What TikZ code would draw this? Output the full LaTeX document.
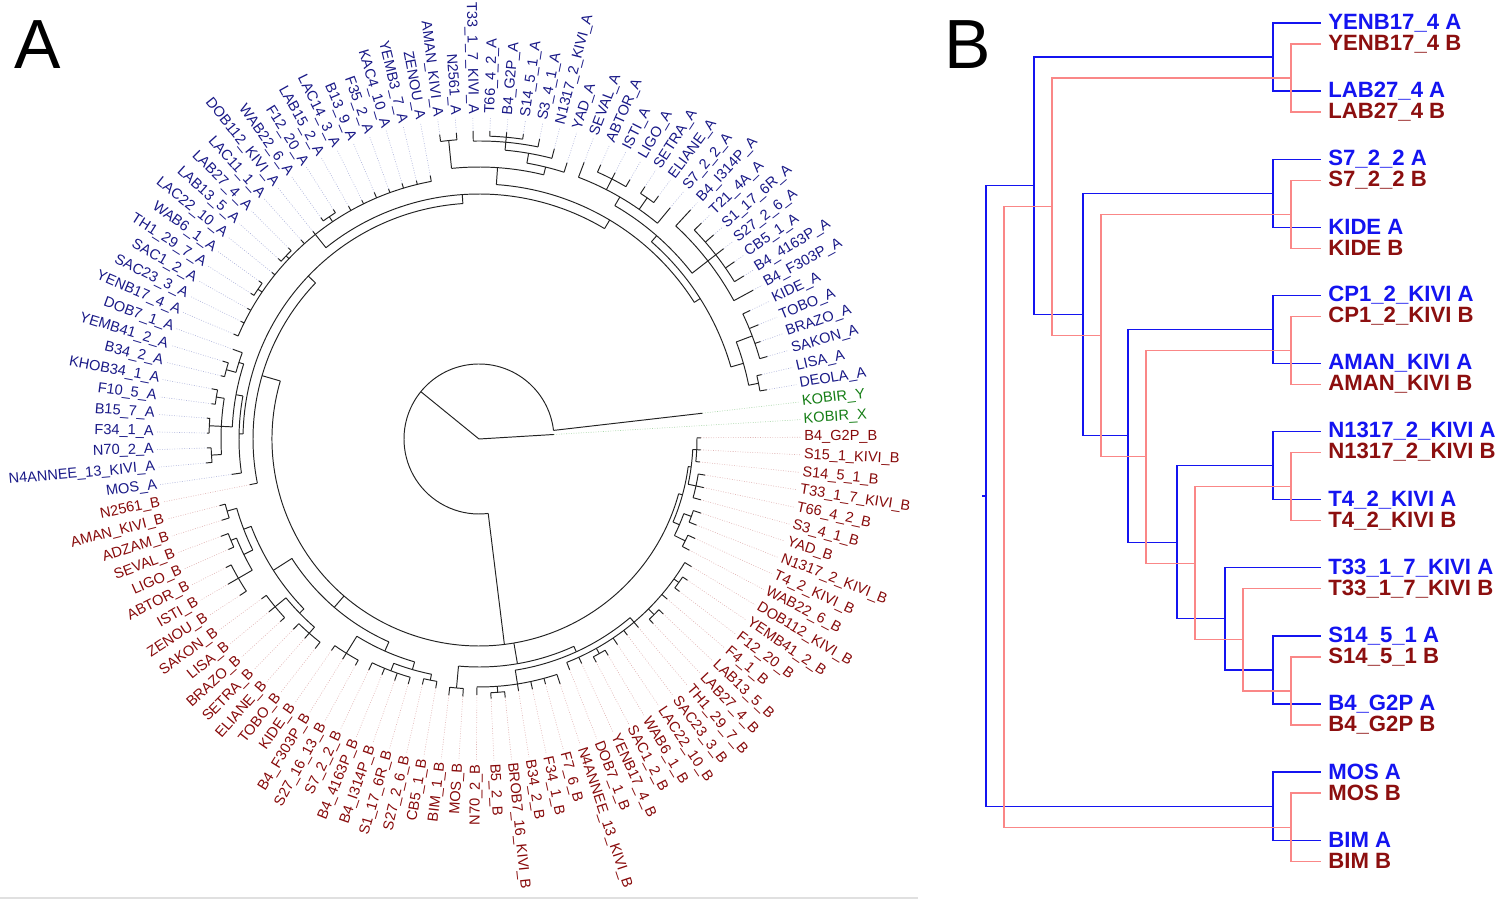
\documentclass[tikz,border=0pt]{standalone}
\usepackage{fontspec}
\setmainfont{Liberation Sans}
\usepackage{tikz}

\definecolor{treegray}{RGB}{35,35,35}
\definecolor{labnavy}{RGB}{25,25,135}
\definecolor{labred}{RGB}{135,10,10}
\definecolor{labgreen}{RGB}{20,125,20}
\definecolor{leadnavy}{RGB}{175,180,220}
\definecolor{leadred}{RGB}{225,180,180}
\definecolor{leadgreen}{RGB}{170,215,170}
\definecolor{bblue}{RGB}{20,20,240}
\definecolor{rpink}{RGB}{250,135,135}
\definecolor{bred}{RGB}{140,15,15}

% one inner node of the fan tree: position, parent radius, radius, arc from, arc to
\newcommand{\clade}[5]{%
  \draw[treeline] ({3.45+3.1304*(#1)}:#2) -- ({3.45+3.1304*(#1)}:#3);
  \draw[treeline] ({3.45+3.1304*(#4)}:#3) arc[start angle={3.45+3.1304*(#4)}, end angle={3.45+3.1304*(#5)}, radius=#3];}

% one tip: index, name, parent radius, tip radius, group
\newcommand{\tipleaf}[5]{%
  \pgfmathsetmacro\tang{3.45+3.1304*#1}%
  \pgfmathtruncatemacro\tflip{(\tang>90)&&(\tang<270)}%
  \ifnum\tflip=1 \pgfmathsetmacro\trot{\tang-180}\def\tanc{east}\else\let\trot\tang\def\tanc{west}\fi
  \draw[treeline] (\tang:#3) -- (\tang:#4);
  \node[lab#5, rotate=\trot, anchor=\tanc] (t#1) at (\tang:322) {#2};
  \draw[lead#5] (\tang:#4) -- (t#1.\tanc);}

\begin{document}
\begin{tikzpicture}[x=0.2mm, y=0.2mm,
    treeline/.style={draw=treegray, line width=0.55pt},
    leadA/.style={draw=leadnavy, line width=0.35pt, dash pattern=on 0.5pt off 0.9pt},
    leadB/.style={draw=leadred, line width=0.35pt, dash pattern=on 0.5pt off 0.9pt},
    leadK/.style={draw=leadgreen, line width=0.35pt, dash pattern=on 0.5pt off 0.9pt},
    labA/.style={text=labnavy, inner sep=0pt, inner xsep=0.6mm, font=\fontsize{8.3}{9}\selectfont},
    labB/.style={labA, text=labred},
    labK/.style={labA, text=labgreen},
    bline/.style={draw=bblue, line width=0.7pt},
    rline/.style={draw=rpink, line width=0.7pt},
    blab/.style={anchor=west, inner sep=0pt, inner xsep=1.4mm, font=\bfseries\fontsize{12.6}{14}\selectfont},
    panel/.style={anchor=north west, inner sep=0pt, font=\fontsize{39.6}{40}\selectfont}
  ]
  \useasboundingbox (0,0) rectangle (1500,900);
  \draw[draw=black!12, line width=0.6pt] (0,2) -- (918,2);

  \node[panel] (letterA) at (14,880) {A};
  \node[panel] (letterB) at (944,880) {B};

  % panel A: fan tree
  \begin{scope}[shift={(479,461)}]
    \clade{43.9}{0}{75}{1}{87.4}
    \clade{87.4}{75}{207}{51.2}{109}
    % A side
    \clade{51.2}{207}{226}{42.45}{60}
    \clade{42.45}{226}{236}{28.9}{56}
    \clade{56}{236}{240}{53.1}{59}
    \clade{53.1}{240}{247}{50.75}{55.5}
    \clade{50.75}{247}{252}{50}{51.5}
    \clade{51.5}{252}{262}{51}{52}
    \clade{55.5}{247}{258}{53.5}{57.5}
    \clade{53.5}{258}{266}{53}{54}
    \clade{55.5}{258}{270}{55}{56}
    \clade{57.5}{258}{268}{57}{58}
    \clade{28.9}{236}{245}{17.8}{40}
    \clade{40}{245}{262}{31}{49}
    \clade{38.5}{262}{268}{38}{39}
    \clade{42.5}{262}{266}{42}{43}
    \clade{45.5}{262}{267}{45}{46}
    \clade{17.8}{245}{255}{9.25}{26.4}
    \clade{26.4}{255}{272}{23.25}{29.5}
    \clade{23.25}{272}{280}{22}{24.5}
    \clade{24.5}{280}{290}{23}{26}
    \clade{26}{290}{298}{24}{28}
    \clade{26}{298}{303}{25}{27}
    \clade{29.5}{272}{300}{29}{30}
    \clade{9.25}{255}{262}{4}{14.5}
    \clade{4}{262}{275}{2.5}{5.5}
    \clade{2.5}{275}{285}{2}{3}
    \clade{5.5}{275}{292}{4}{7}
    \clade{14.5}{262}{270}{11}{18}
    \clade{11}{270}{290}{8}{14}
    \clade{11}{290}{300}{9}{13}
    \clade{18}{270}{280}{15}{21}
    \clade{16.5}{280}{294}{16}{17}
    \clade{19}{280}{292}{18}{20}
    % B side
    \clade{72.15}{207}{222}{66.8}{77.5}
    \clade{66.8}{222}{244}{63.1}{70.5}
    \clade{63.1}{244}{252}{61.5}{64.75}
    \clade{61.5}{252}{262}{61}{62}
    \clade{64.75}{252}{262}{63.5}{66}
    \clade{63.5}{262}{268}{63}{64}
    \clade{66}{262}{278}{65}{67}
    \clade{70.5}{244}{250}{69}{72}
    \clade{69}{250}{264}{68}{70}
    \clade{72}{250}{258}{71}{73}
    \clade{77.5}{222}{232}{75}{80}
    \clade{75}{232}{252}{74}{76}
    \clade{80}{232}{240}{78.5}{81.5}
    \clade{78.5}{240}{248}{77}{80}
    \clade{81.5}{240}{246}{81}{82}
    \clade{88.25}{207}{228}{83.5}{93}
    \clade{83.5}{228}{250}{83}{84}
    \clade{93}{228}{234}{88}{98}
    \clade{88}{234}{248}{85}{91}
    \clade{86.5}{248}{254}{86}{87}
    \clade{98}{234}{240}{92}{104}
    \clade{94.5}{240}{246}{94}{95}
    \clade{99.5}{240}{248}{99}{100}
    \clade{102.5}{240}{246}{102}{103}
    \clade{109}{207}{211}{106.5}{111.5}
    \clade{106.5}{211}{218}{105.5}{107.5}
    \clade{105.5}{218}{230}{105}{106}
    \clade{107.5}{218}{226}{107}{108}
    \clade{111.5}{211}{214}{110}{113}
    \clade{110}{214}{222}{109}{111}
    \clade{113}{214}{218}{112}{114}

    \tipleaf{0}{KOBIR\_X}{0}{75}{K}
    \tipleaf{1}{KOBIR\_Y}{75}{225}{K}
    \foreach \i/\nm/\rp/\rt in {2/DEOLA\_A/285/292, 3/LISA\_A/285/290, 4/SAKON\_A/292/300,
      5/BRAZO\_A/292/298, 6/TOBO\_A/292/302, 7/KIDE\_A/292/300, 8/B4\_F303P\_A/290/312,
      9/B4\_4163P\_A/300/311, 10/CB5\_1\_A/300/311, 11/S27\_2\_6\_A/300/310,
      12/S1\_17\_6R\_A/300/311, 13/T21\_4A\_A/300/310, 14/B4\_I314P\_A/290/312,
      15/S7\_2\_2\_A/280/300, 16/ELIANE\_A/294/302, 17/SETRA\_A/294/302, 18/LIGO\_A/292/300,
      19/ISTI\_A/292/299, 20/ABTOR\_A/292/300, 21/SEVAL\_A/280/296, 22/YAD\_A/280/290,
      23/N1317\_2\_KIVI\_A/290/300, 24/S3\_4\_1\_A/298/306, 25/S14\_5\_1\_A/303/308,
      26/B4\_G2P\_A/303/308, 27/T66\_4\_2\_A/303/308, 28/T33\_1\_7\_KIVI\_A/298/308,
      29/N2561\_A/300/307, 30/AMAN\_KIVI\_A/300/307, 31/ZENOU\_A/262/268,
      32/YEMB3\_7\_A/262/266, 33/KAC4\_10\_A/262/267, 34/F35\_2\_A/262/266,
      35/B13\_9\_A/262/268, 36/LAC14\_3\_A/262/266, 37/LAB15\_2\_A/262/267,
      38/F12\_20\_A/268/272, 39/WAB22\_6\_A/268/272, 40/DOB112\_KIVI\_A/262/266,
      41/LAC11\_1\_A/262/267, 42/LAB27\_4\_A/266/270, 43/LAB13\_5\_A/266/270,
      44/LAC22\_10\_A/262/266, 45/WAB6\_1\_A/267/271, 46/TH1\_29\_7\_A/267/271,
      47/SAC1\_2\_A/262/266, 48/SAC23\_3\_A/262/266, 49/YENB17\_4\_A/262/267,
      50/DOB7\_1\_A/252/262, 51/YEMB41\_2\_A/262/268, 52/B34\_2\_A/262/266,
      53/KHOB34\_1\_A/266/272, 54/F10\_5\_A/266/270, 55/B15\_7\_A/270/273,
      56/F34\_1\_A/270/272, 57/N70\_2\_A/268/272, 58/N4ANNEE\_13\_KIVI\_A/268/274,
      59/MOS\_A/240/250}
      {\tipleaf{\i}{\nm}{\rp}{\rt}{A}}
    \foreach \i/\nm/\rp/\rt in {60/N2561\_B/226/234, 61/AMAN\_KIVI\_B/262/268,
      62/ADZAM\_B/262/270, 63/SEVAL\_B/268/276, 64/LIGO\_B/268/274, 65/ABTOR\_B/278/284,
      66/ISTI\_B/278/290, 67/ZENOU\_B/278/286, 68/SAKON\_B/264/270, 69/LISA\_B/264/272,
      70/BRAZO\_B/264/270, 71/SETRA\_B/258/266, 72/ELIANE\_B/258/265, 73/TOBO\_B/258/266,
      74/KIDE\_B/252/258, 75/B4\_F303P\_B/252/259, 76/S27\_16\_13\_B/252/258,
      77/S7\_2\_2\_B/248/256, 78/B4\_4163P\_B/248/255, 79/B4\_I314P\_B/248/256,
      80/S1\_17\_6R\_B/248/255, 81/S27\_2\_6\_B/246/252, 82/CB5\_1\_B/246/253,
      83/BIM\_1\_B/250/258, 84/MOS\_B/250/258, 85/N70\_2\_B/248/256, 86/B5\_2\_B/254/260,
      87/BROB7\_16\_KIVI\_B/254/260, 88/B34\_2\_B/248/255, 89/F34\_1\_B/248/256,
      90/F7\_6\_B/248/254, 91/N4ANNEE\_13\_KIVI\_B/248/258, 92/DOB7\_1\_B/240/248,
      93/YENB17\_4\_B/240/247, 94/SAC1\_2\_B/246/252, 95/WAB6\_1\_B/246/252,
      96/LAC22\_10\_B/240/248, 97/SAC23\_3\_B/240/246, 98/TH1\_29\_7\_B/240/247,
      99/LAB27\_4\_B/248/254, 100/LAB13\_5\_B/248/254, 101/F4\_1\_B/240/247,
      102/F12\_20\_B/246/252, 103/YEMB41\_2\_B/246/252, 104/DOB112\_KIVI\_B/240/248,
      105/WAB22\_6\_B/230/238, 106/T4\_2\_KIVI\_B/230/238, 107/N1317\_2\_KIVI\_B/226/234,
      108/YAD\_B/226/234, 109/S3\_4\_1\_B/222/230, 110/T66\_4\_2\_B/222/230,
      111/T33\_1\_7\_KIVI\_B/222/229, 112/S14\_5\_1\_B/218/222, 113/S15\_1\_KIVI\_B/218/222,
      114/B4\_G2P\_B/218/222}
      {\tipleaf{\i}{\nm}{\rp}{\rt}{B}}
  \end{scope}

  % panel B: paired dendrograms
  \foreach \k/\nm in {0/YENB17\_4, 1/LAB27\_4, 2/S7\_2\_2, 3/KIDE, 4/CP1\_2\_KIVI,
      5/AMAN\_KIVI, 6/N1317\_2\_KIVI, 7/T4\_2\_KIVI, 8/T33\_1\_7\_KIVI, 9/S14\_5\_1,
      10/B4\_G2P, 11/MOS, 12/BIM}{
    \node[blab, text=bblue] (bA\k) at (1321,{877-68.1*\k}) {\nm{} A};
    \node[blab, text=bred] (bB\k) at (1321,{856-68.1*\k}) {\nm{} B};
  }

  \coordinate (a01) at (1273,842.95);
  \coordinate (a23) at (1273,706.75);
  \coordinate (a45) at (1273,570.55);
  \coordinate (a67) at (1273,434.35);
  \coordinate (a910) at (1273,230.05);
  \coordinate (a1112) at (1273,93.85);
  \coordinate (aT) at (1225,281.13);
  \coordinate (a67T) at (1177,357.74);
  \coordinate (a45n) at (1128,464.14);
  \coordinate (a23n) at (1083,585.45);
  \coordinate (a01n) at (1034,714.2);
  \coordinate (aroot) at (986,404.03);
  \coordinate (aroot0) at (982,404.03);

  \coordinate (r01) at (1291,821.95);
  \coordinate (r23) at (1291,685.75);
  \coordinate (r45) at (1291,549.55);
  \coordinate (r67) at (1291,413.35);
  \coordinate (r910) at (1291,209.05);
  \coordinate (r1112) at (1291,72.85);
  \coordinate (rT) at (1243,260.13);
  \coordinate (r67T) at (1195,336.74);
  \coordinate (r45n) at (1146,443.14);
  \coordinate (r23n) at (1101,564.45);
  \coordinate (r01n) at (1052,693.2);
  \coordinate (rroot) at (1004,383.03);

  \draw[bline] (a01) |- (bA0.west) (a01) |- (bA1.west);
  \draw[bline] (a23) |- (bA2.west) (a23) |- (bA3.west);
  \draw[bline] (a45) |- (bA4.west) (a45) |- (bA5.west);
  \draw[bline] (a67) |- (bA6.west) (a67) |- (bA7.west);
  \draw[bline] (a910) |- (bA9.west) (a910) |- (bA10.west);
  \draw[bline] (a1112) |- (bA11.west) (a1112) |- (bA12.west);
  \draw[bline] (aT) |- (bA8.west) (aT) |- (a910);
  \draw[bline] (a67T) |- (a67) (a67T) |- (aT);
  \draw[bline] (a45n) |- (a45) (a45n) |- (a67T);
  \draw[bline] (a23n) |- (a23) (a23n) |- (a45n);
  \draw[bline] (a01n) |- (a01) (a01n) |- (a23n);
  \draw[bline] (aroot) |- (a01n) (aroot) |- (a1112);
  \draw[bline] (aroot0) -- (aroot);

  \draw[rline] (r01) |- (bB0.west) (r01) |- (bB1.west);
  \draw[rline] (r23) |- (bB2.west) (r23) |- (bB3.west);
  \draw[rline] (r45) |- (bB4.west) (r45) |- (bB5.west);
  \draw[rline] (r67) |- (bB6.west) (r67) |- (bB7.west);
  \draw[rline] (r910) |- (bB9.west) (r910) |- (bB10.west);
  \draw[rline] (r1112) |- (bB11.west) (r1112) |- (bB12.west);
  \draw[rline] (rT) |- (bB8.west) (rT) |- (r910);
  \draw[rline] (r67T) |- (r67) (r67T) |- (rT);
  \draw[rline] (r45n) |- (r45) (r45n) |- (r67T);
  \draw[rline] (r23n) |- (r23) (r23n) |- (r45n);
  \draw[rline] (r01n) |- (r01) (r01n) |- (r23n);
  \draw[rline] (rroot) |- (r01n) (rroot) |- (r1112);
\end{tikzpicture}
\end{document}
